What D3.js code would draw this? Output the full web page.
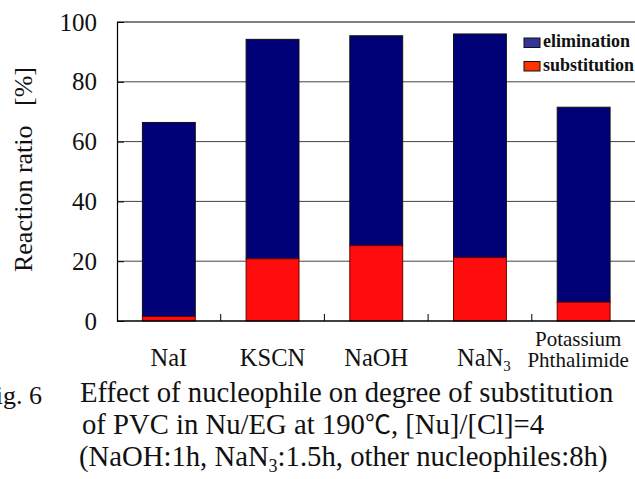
<!DOCTYPE html>
<html>
<head>
<meta charset="utf-8">
<script src="https://cdn.jsdelivr.net/npm/d3@7"></script>
</head>
<body style="margin:0">
<div id="chart"></div>
<script>
var categories = ["NaI", "KSCN", "NaOH", "NaN3", "Potassium Phthalimide"];
var substitution = [1.5, 20.8, 25.2, 21.2, 6.3];
var total = [66.4, 94.2, 95.4, 96.0, 71.5];
var yTicks = [0, 20, 40, 60, 80, 100];

var width = 635;
var height = 479;
var plotLeft = 117, plotRight = 635.5, plotTop = 22, plotBottom = 321;
var serif = "'Liberation Serif'";

var svg = d3.select("#chart").append("svg")
  .attr("width", width)
  .attr("height", height)
  .style("display", "block");

/* Scales */
var x = d3.scaleBand()
  .domain(categories)
  .range([plotLeft, plotRight])
  .paddingInner(0.49)
  .paddingOuter(0.245);

var y = d3.scaleLinear()
  .domain([0, 100])
  .range([plotBottom, plotTop]);

/* grid */
svg.append("g")
  .selectAll("line")
  .data(yTicks.filter(d => d > 0 && d < 100)).enter()
  .append("line")
  .attr("x1", plotLeft).attr("x2", width)
  .attr("y1", d => y(d)).attr("y2", d => y(d))
  .style("stroke", "#444")
  .style("stroke-width", 1);

// top frame line
svg.append("line")
  .attr("x1", plotLeft).attr("x2", width)
  .attr("y1", y(100)).attr("y2", y(100))
  .style("stroke", "#000").style("stroke-width", 1.2);

/* bars */
var bars = svg.append("g");
bars.selectAll(".elim")
  .data(categories).enter()
  .append("rect")
  .attr("class", "elim")
  .attr("x", d => x(d))
  .attr("width", x.bandwidth())
  .attr("y", (d, i) => y(total[i]))
  .attr("height", (d, i) => y(substitution[i]) - y(total[i]))
  .style("fill", "#000077")
  .style("stroke", "#111")
  .style("stroke-width", 1);

bars.selectAll(".subst")
  .data(categories).enter()
  .append("rect")
  .attr("class", "subst")
  .attr("x", d => x(d))
  .attr("width", x.bandwidth())
  .attr("y", (d, i) => y(substitution[i]))
  .attr("height", (d, i) => y(0) - y(substitution[i]))
  .style("fill", "#ff0d0d")
  .style("stroke", "#600")
  .style("stroke-width", 1);

/* axes */
var yAxis = d3.axisLeft(y).tickValues(yTicks).tickSize(-7).tickPadding(20);
var gy = svg.append("g")
  .attr("transform", `translate(${plotLeft},0)`)
  .call(yAxis)
  .attr("font-family", null)
  .attr("font-size", null);
gy.select(".domain").style("stroke", "#000").style("stroke-width", 1.2);
gy.selectAll(".tick line").style("stroke", "#000");
gy.selectAll(".tick text")
  .style("font-family", serif)
  .style("font-size", "25px")
  .style("fill", "#111");

// x axis baseline with ticks between categories
svg.append("line")
  .attr("x1", plotLeft).attr("x2", width)
  .attr("y1", y(0)).attr("y2", y(0))
  .style("stroke", "#000").style("stroke-width", 1.5);

svg.append("g")
  .selectAll("line")
  .data(categories.slice(1)).enter()
  .append("line")
  .attr("x1", d => x(d) - x.step() * x.paddingInner() / 2)
  .attr("x2", d => x(d) - x.step() * x.paddingInner() / 2)
  .attr("y1", y(0)).attr("y2", y(0) - 7)
  .style("stroke", "#000");

/* x labels */
var xl = svg.append("g");

function label(txt, px, py, size) {
  return xl.append("text")
    .attr("x", px).attr("y", py)
    .attr("text-anchor", "middle")
    .style("font-family", serif)
    .style("font-size", size + "px")
    .style("fill", "#111")
    .text(txt);
}

categories.forEach(function (c, i) {
  var cx = x(c) + x.bandwidth() / 2;
  if (c === "NaN3") {
    var t = label("", cx + 4, 366, 24.5);
    t.append("tspan").text("NaN");
    t.append("tspan").text("3").attr("dy", 5).style("font-size", "15px");
  } else if (c === "Potassium Phthalimide") {
    label("Potassium", cx - 5.5, 346, 21);
    label("Phthalimide", cx - 5.5, 367, 21);
  } else {
    label(c, cx, 366, 24.5);
  }
});

/* y label */
svg.append("text")
  .attr("transform", `translate(32,${(plotTop + plotBottom) / 2 - 2}) rotate(-90)`)
  .attr("text-anchor", "middle")
  .style("font-family", serif)
  .style("font-size", "26px")
  .style("fill", "#111")
  .style("white-space", "pre")
  .text("Reaction ratio   [%]");

/* legend */
var legendItems = [
  { name: "elimination", color: "#333399" },
  { name: "substitution", color: "#ff3300" }
];
var lg = svg.append("g");
legendItems.forEach(function (d, i) {
  lg.append("rect")
    .attr("x", 524).attr("y", 38 + i * 23.5)
    .attr("width", 16).attr("height", 9.5)
    .style("fill", d.color).style("stroke", "#111").style("stroke-width", 1);
  lg.append("text")
    .attr("x", 543).attr("y", 47 + i * 23.5)
    .style("font-family", serif)
    .style("font-size", "18px")
    .style("font-weight", "bold")
    .style("fill", "#111")
    .text(d.name);
});

/* caption */
var cap = svg.append("g");
function capText(px, py, size) {
  return cap.append("text").attr("x", px).attr("y", py)
    .style("font-family", serif)
    .style("font-size", size + "px")
    .style("fill", "#111");
}
capText(42, 404, 26).attr("text-anchor", "end").text("Fig. 6");
capText(80, 402, 28.7).text("Effect of nucleophile on degree of substitution");
var l2 = capText(82, 434, 28.7);
l2.append("tspan").text("of PVC in Nu/EG at 190");
l2.append("tspan").style("font-family", "'Noto Sans CJK JP'").style("font-size", "26px").text("℃");
l2.append("tspan").text(", [Nu]/[Cl]=4");
var l3 = capText(79, 466, 28.7);
l3.append("tspan").text("(NaOH:1h, NaN");
l3.append("tspan").attr("dy", 6).style("font-size", "18px").text("3");
l3.append("tspan").attr("dy", -6).text(":1.5h, other nucleophiles:8h)");
</script>
</body>
</html>
